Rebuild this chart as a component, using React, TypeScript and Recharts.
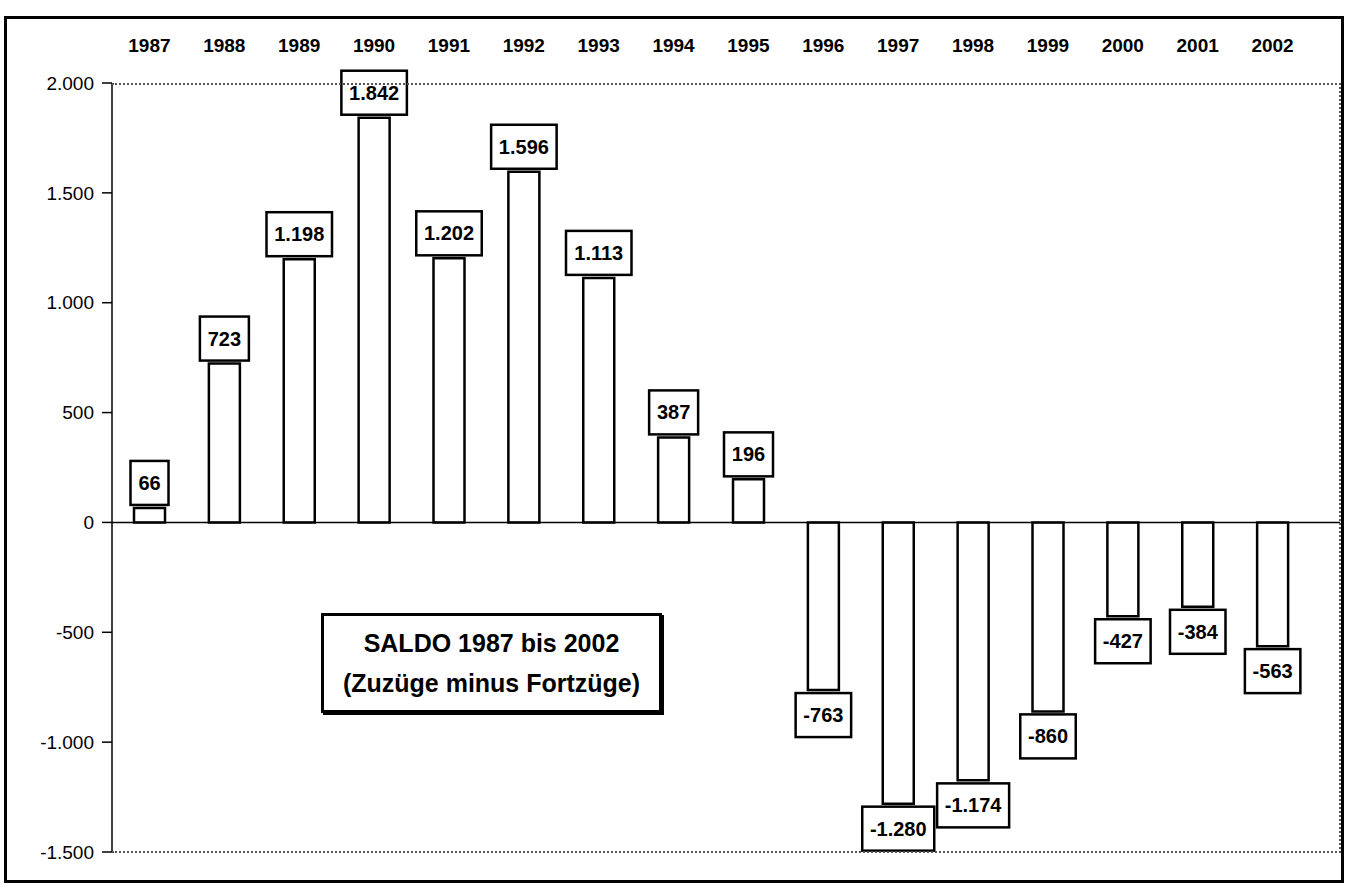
import { BarChart, Bar, XAxis, YAxis, ReferenceLine, LabelList } from "recharts";

const years = ["1987", "1988", "1989", "1990", "1991", "1992", "1993", "1994", "1995", "1996", "1997", "1998", "1999", "2000", "2001", "2002"];
const saldo = [66, 723, 1198, 1842, 1202, 1596, 1113, 387, 196, -763, -1280, -1174, -860, -427, -384, -563];
const yTicks = [-1500, -1000, -500, 0, 500, 1000, 1500, 2000];

const chartData = years.map((year, i) => ({ year, saldo: saldo[i] }));

const FONT = '"Liberation Sans", Arial, sans-serif';

// German thousands separator: 1842 -> 1.842
function formatDE(v: number) {
  const s = Math.abs(v).toString().replace(/\B(?=(\d{3})+(?!\d))/g, ".");
  return (v < 0 ? "-" : "") + s;
}

function YearTick({ x, payload }: any) {
  return (
    <text x={x} y={52} textAnchor="middle" fontSize={19} fontWeight="bold" fill="#000" fontFamily={FONT}>
      {payload.value}
    </text>
  );
}

function ValueBox(props: any) {
  const { x, y, width, height, value } = props;
  const label = formatDE(Number(value));
  const textW = label.replace(/[.\-]/g, "").length * 11 + (label.match(/\./g) || []).length * 5.5 + (label.startsWith("-") ? 6.5 : 0);
  const boxW = textW + 16;
  const boxH = 44;
  const cx = x + width / 2;
  const top = Math.min(y, y + height);
  const bottom = Math.max(y, y + height);
  const boxY = value >= 0 ? top - 3 - boxH : bottom + 3;
  return (
    <g>
      <rect x={cx - boxW / 2} y={boxY} width={boxW} height={boxH} fill="#fff" stroke="#000" strokeWidth={2.5} />
      <text x={cx} y={boxY + boxH / 2 + 7} textAnchor="middle" fontSize={20} fontWeight="bold" fill="#000" fontFamily={FONT}>
        {label}
      </text>
    </g>
  );
}

export default function App() {
  return (
    <div style={{ position: "absolute", left: 0, top: 0, width: 1349, height: 895, background: "#fff", fontFamily: FONT }}>
      <div style={{ position: "absolute", left: 0, top: 0 }}>
        <BarChart width={1349} height={895} data={chartData} margin={{ top: 20, right: 9, bottom: 43, left: 0 }}>
          <XAxis
            dataKey="year"
            orientation="top"
            height={63}
            axisLine={false}
            tickLine={false}
            tick={<YearTick />}
            interval={0}
            padding={{ left: 0, right: 30 }}
          />
          <YAxis
            width={112}
            domain={[-1500, 2000]}
            ticks={yTicks}
            tickFormatter={formatDE}
            axisLine={{ stroke: "#000", strokeWidth: 1.5 }}
            tickLine={{ stroke: "#000", strokeWidth: 1.5 }}
            tickSize={10}
            tickMargin={8}
            tick={{ fill: "#000", fontSize: 19, fontFamily: FONT }}
          />
          <ReferenceLine y={0} stroke="#000" strokeWidth={1.5} />
          <Bar dataKey="saldo" fill="#fff" stroke="#000" strokeWidth={2.5} barSize={31} isAnimationActive={false}>
            <LabelList dataKey="saldo" content={<ValueBox />} />
          </Bar>
        </BarChart>
      </div>
      {/* dotted plot frame (top, right, bottom) */}
      <div
        style={{
          position: "absolute",
          left: 112,
          top: 83,
          width: 1229,
          height: 770,
          borderTop: "2px dotted #555",
          borderRight: "2px dotted #555",
          borderBottom: "2px dotted #555",
          boxSizing: "border-box",
          pointerEvents: "none",
        }}
      />
      {/* outer frame */}
      <div
        style={{
          position: "absolute",
          left: 4,
          top: 16,
          width: 1340,
          height: 867,
          border: "3px solid #000",
          boxSizing: "border-box",
          pointerEvents: "none",
        }}
      />
      {/* title box */}
      <div
        style={{
          position: "absolute",
          left: 321,
          top: 613,
          width: 341,
          height: 100,
          border: "3px solid #000",
          boxShadow: "2px 2px 0 #000",
          boxSizing: "border-box",
          background: "#fff",
          display: "flex",
          flexDirection: "column",
          justifyContent: "center",
          alignItems: "center",
          fontSize: 25,
          fontWeight: "bold",
          lineHeight: "40px",
          color: "#000",
        }}
      >
        <div>SALDO 1987 bis 2002</div>
        <div>(Zuzüge minus Fortzüge)</div>
      </div>
    </div>
  );
}
